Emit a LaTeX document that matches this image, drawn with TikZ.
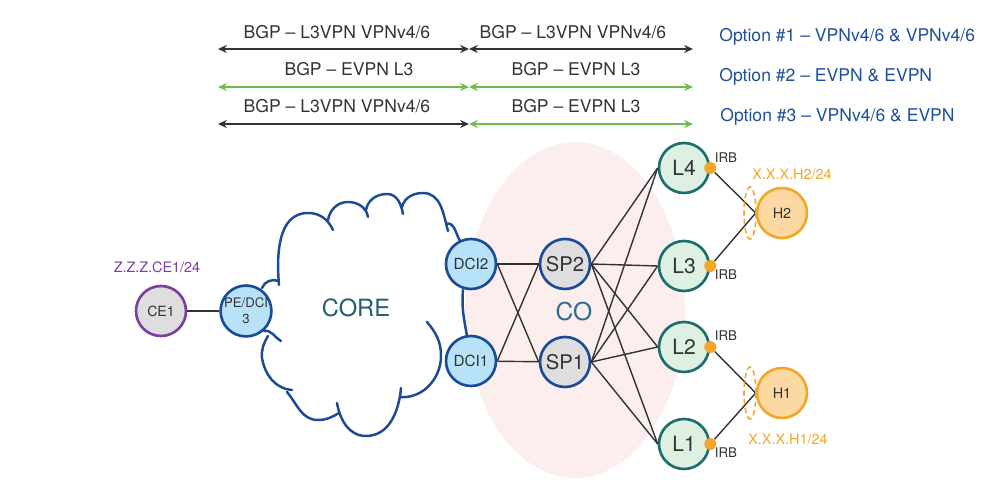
\documentclass[tikz,border=0pt]{standalone}
\usepackage{fontspec}
\setmainfont{TeX Gyre Heros}
\usepackage{tikz}
\usetikzlibrary{arrows.meta}
\definecolor{navy}{HTML}{1B4B96}
\definecolor{optblue}{HTML}{1E4F9C}
\definecolor{bgpgreen}{HTML}{6CBF4B}
\definecolor{darkline}{HTML}{333333}
\definecolor{cepurple}{HTML}{7B3F9E}
\definecolor{devgray}{HTML}{DEDEDE}
\definecolor{dciblue}{HTML}{B8E2F8}
\definecolor{leafgreen}{HTML}{DDF0E1}
\definecolor{leafteal}{HTML}{1C6E6C}
\definecolor{irborange}{HTML}{F4A62A}
\definecolor{hostfill}{HTML}{FCD9A3}
\definecolor{copink}{HTML}{FDEEEE}
\definecolor{coretext}{HTML}{245E72}
\definecolor{cotext}{HTML}{2C6E96}

\begin{document}
\begin{tikzpicture}[x=0.02cm,y=0.02cm, % one unit is one pixel
  dev/.style={circle,draw,line width=1.5pt,minimum size=1cm,inner sep=0pt,text=darkline},
  dci/.style={dev,fill=dciblue,draw=navy,font=\fontsize{8.7}{10}\selectfont},
  spine/.style={dev,fill=devgray,draw=navy,font=\fontsize{11.5}{13}\selectfont},
  leaf/.style={dev,fill=leafgreen,draw=leafteal,font=\fontsize{12}{14}\selectfont},
  host/.style={dev,fill=hostfill,draw=irborange,font=\fontsize{8.2}{10}\selectfont},
  irb/.style={circle,fill=irborange,minimum size=0.24cm,inner sep=0pt},
  link/.style={draw=darkline,line width=0.8pt},
  bgp/.style={line width=1pt,{Stealth[length=5pt,width=4.5pt]}-{Stealth[length=5pt,width=4.5pt]}},
  bgptext/.style={text=darkline,font=\fontsize{10}{12}\selectfont},
  opt/.style={anchor=west,inner sep=0pt,text=optblue,font=\fontsize{10}{12}\selectfont},
  irbtext/.style={text=darkline,font=\fontsize{7.6}{9}\selectfont},
  addr/.style={font=\fontsize{8.2}{10}\selectfont}]
\useasboundingbox (0,0) rectangle (1008,496);

%BGP sessions
\coordinate (r1w) at (218,447); \coordinate (r1m) at (469,447); \coordinate (r1e) at (693,447);
\coordinate (r2w) at (218,409); \coordinate (r2m) at (469,409); \coordinate (r2e) at (693,409);
\coordinate (r3w) at (218,372); \coordinate (r3m) at (469,372); \coordinate (r3e) at (693,372);
%option 1
\draw[bgp,darkline] (r1w) -- (r1m);
\draw[bgp,darkline] (r1m) -- (r1e);
\node[bgptext] (t1w) at (337,464) {BGP -- L3VPN VPNv4/6};
\node[bgptext] (t1e) at (573,464) {BGP -- L3VPN VPNv4/6};
%option 2
\draw[bgp,bgpgreen] (r2w) -- (r2m);
\draw[bgp,bgpgreen] (r2m) -- (r2e);
\node[bgptext] (t2w) at (349,427) {BGP -- EVPN L3};
\node[bgptext] (t2e) at (576,427) {BGP -- EVPN L3};
%option 3
\draw[bgp,darkline] (r3w) -- (r3m);
\draw[bgp,bgpgreen] (r3m) -- (r3e);
\node[bgptext] (t3w) at (337,390) {BGP -- L3VPN VPNv4/6};
\node[bgptext] (t3e) at (576,390) {BGP -- EVPN L3};
%options
\node[opt] (opt1) at (719,459) {Option \#1 -- VPNv4/6 \& VPNv4/6};
\node[opt] (opt2) at (719,419) {Option \#2 -- EVPN \& EVPN};
\node[opt] (opt3) at (720,379) {Option \#3 -- VPNv4/6 \& EVPN};

%CO region
\fill[copink] (575,186) ellipse [x radius=110,y radius=168];
\node[text=cotext,font=\fontsize{14}{16}\selectfont] (CO) at (574,184) {CO};

%core cloud, upper side
\draw[navy,line width=1.4pt,line cap=round]
  (262,208) to[out=70,in=160] (279,215)
  (279,211) to[out=95,in=180] (308,283) to[out=0,in=115] (333,266)
  (328,276) to[out=80,in=180] (348,294) to[out=0,in=100] (368,279)
  (366,286) to[out=80,in=180] (387,302) to[out=0,in=100] (403,282)
  (402,289) to[out=75,in=180] (423,303) to[out=0,in=105] (448,265)
  (446,272) to[out=20,in=120] (460,255)
%between DCI2 and DCI1
  (463,206) to[out=-95,in=100] (467,160)
%lower side
  (427,174) to[out=-50,in=90] (441,140) to[out=-90,in=-5] (400,99)
  (401,108) to[out=-95,in=0] (366,60) to[out=180,in=-80] (337,93)
  (339,83) to[out=-150,in=0] (318,76) to[out=180,in=-50] (287,104)
  (292,106) to[out=175,in=-80] (262,138) to[out=95,in=-120] (268,160)
  (264,165) to[out=10,in=150] (281,155);
\node[text=coretext,font=\fontsize{13.5}{16}\selectfont] (CORE) at (356,188) {CORE};

%customer edge and PE
\node[dev,fill=devgray,draw=cepurple,font=\fontsize{8}{10}\selectfont] (CE1) at (161,185) {CE1};
\node[addr,text=cepurple] (ceaddr) at (157,229) {Z.Z.Z.CE1/24};
\node[dci,font=\fontsize{7.5}{9}\selectfont,align=center] (PE) at (246,185) {PE/DCI\\3};
%DCI and spines
\node[dci] (DCI2) at (471,232) {DCI2};
\node[dci] (DCI1) at (471,135) {DCI1};
\node[spine] (SP2) at (565,232) {SP2};
\node[spine] (SP1) at (565,134) {SP1};
%leafs
\node[leaf] (L4) at (684,328) {L4};
\node[leaf] (L3) at (684,230) {L3};
\node[leaf] (L2) at (684,149) {L2};
\node[leaf] (L1) at (684,52) {L1};
\node[irb] (d4) at (L4.east) {};
\node[irb] (d3) at (L3.east) {};
\node[irb] (d2) at (L2.east) {};
\node[irb] (d1) at (L1.east) {};
\node[irbtext] (irb4) at (726,338) {IRB};
\node[irbtext] (irb3) at (726,221) {IRB};
\node[irbtext] (irb2) at (726,160) {IRB};
\node[irbtext] (irb1) at (726,43) {IRB};
%hosts
\node[host] (H2) at (782,283) {H2};
\node[host] (H1) at (782,103) {H1};
\node[addr,text=irborange] (h2addr) at (792,322) {X.X.X.H2/24};
\node[addr,text=irborange] (h1addr) at (788,57) {X.X.X.H1/24};

%links
\draw[link] (CE1) -- (PE);
\draw[link] (DCI2) -- (SP2);
\draw[link] (DCI1) -- (SP1);
\draw[link] (DCI2.east) -- (SP1.west);
\draw[link] (DCI1.east) -- (SP2.west);
%spine to leaf
\draw[link] (SP2.east) -- (L4.west);
\draw[link] (SP2.east) -- (L3.west);
\draw[link] (SP2.east) -- (L2.west);
\draw[link] (SP2.east) -- (L1.west);
\draw[link] (SP1.east) -- (L4.west);
\draw[link] (SP1.east) -- (L3.west);
\draw[link] (SP1.east) -- (L2.west);
\draw[link] (SP1.east) -- (L1.west);
%leaf to host
\draw[link] (d4) -- (H2.west);
\draw[link] (d3) -- (H2.west);
\draw[link] (d2) -- (H1.west);
\draw[link] (d1) -- (H1.west);
%multihoming
\draw[irborange,line width=0.9pt,dash pattern=on 3pt off 2pt] (750,283) ellipse [x radius=6,y radius=26];
\draw[irborange,line width=0.9pt,dash pattern=on 3pt off 2pt] (750,103) ellipse [x radius=6,y radius=26];
\end{tikzpicture}
\end{document}
